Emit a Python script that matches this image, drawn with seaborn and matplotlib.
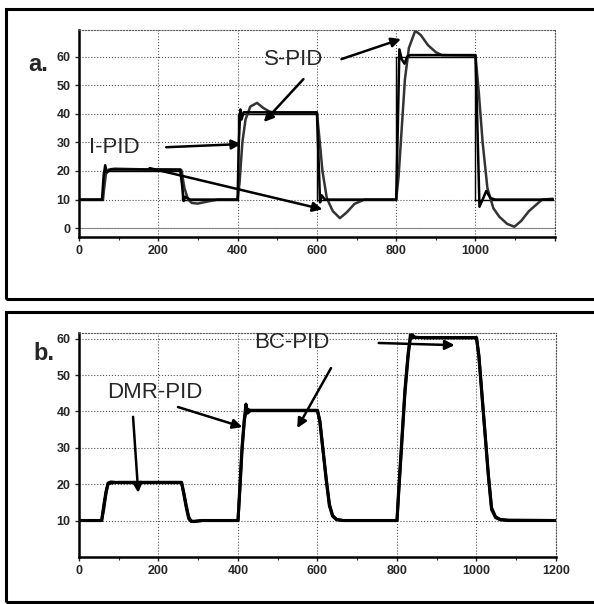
import numpy as np
import pandas as pd
import matplotlib
matplotlib.use("Agg")
import matplotlib.pyplot as plt
import seaborn as sns
from matplotlib.patches import Rectangle
from matplotlib.ticker import MultipleLocator

# panel a: setpoint and two controller responses
a_sp_t = [0, 60, 60, 260, 260, 400, 400, 600, 600, 800, 800, 1000, 1000, 1195]
a_sp_y = [10, 10, 20, 20, 10, 10, 40, 40, 10, 10, 60, 60, 10, 10]

a_ipid_t = [0, 58, 62, 66, 70, 80, 100, 255, 260, 264, 268, 280, 400, 403, 407, 410, 415,
            600, 604, 608, 612, 620, 800, 804, 808, 814, 821, 828, 835,
            1000, 1004, 1010, 1018, 1027, 1038, 1050, 1195]
a_ipid_y = [10, 10, 18, 22, 19.5, 20.5, 20.5, 20.5, 15, 9.5, 11, 10, 10, 30, 41.5, 38, 40.5,
            40.5, 25, 9, 11.5, 10, 10, 35, 62.5, 59, 57.5, 60, 60.5,
            60.5, 40, 7.5, 10, 13, 10.5, 10, 10]

a_spid_t = [0, 60, 68, 75, 90, 150, 258, 266, 275, 285, 300, 320, 350, 400, 405, 412, 420, 432,
            449, 465, 480, 495, 600, 606, 614, 625, 640, 658, 675, 695, 720, 800, 806, 814,
            822, 832, 848, 862, 880, 900, 915, 1000, 1008, 1018, 1030, 1045, 1060, 1080,
            1098, 1115, 1135, 1168, 1195]
a_spid_y = [10, 10, 19, 20.5, 20.8, 20.6, 20.4, 14, 10, 8.8, 8.6, 9.2, 10, 10, 16, 30, 38, 42.5,
            43.8, 42, 40.8, 40.3, 40.3, 32, 20, 10.5, 6, 3.5, 5.5, 8.5, 10, 10, 18, 35,
            52, 63, 69, 67.5, 64, 61.5, 60.5, 60.3, 48, 30, 14, 7, 4, 1.5,
            0.5, 2.5, 6, 10, 10.3]

# panel b: two responses that nearly overlap
b_t = [0, 57, 62, 68, 73, 80, 100, 258, 264, 270, 276, 282, 290, 310, 400, 404, 410, 416, 420,
       424, 432, 450, 600, 606, 614, 622, 630, 638, 648, 665, 700, 800, 804, 812, 820, 828,
       834, 845, 870, 1000, 1006, 1014, 1022, 1030, 1038, 1048, 1060, 1080, 1200]
b_dmr_y = [10, 10, 14, 18, 20, 20.3, 20.5, 20.5, 17, 13.5, 10.5, 9.8, 9.8, 10, 10, 18, 30, 38, 42,
           39.5, 40.3, 40.3, 40.3, 37, 29, 21, 14, 11.2, 10.2, 10, 10, 10, 18, 32, 46, 56,
           60.3, 60.3, 60.3, 60.3, 55, 44, 33, 22, 13, 10.8, 10.2, 10, 10]
b_bc_y = [10, 10, 13, 17.5, 20.3, 20.6, 20.4, 20.4, 17.5, 14, 11, 9.8, 9.7, 10, 10, 17, 29, 37.5, 40,
          40.6, 40.2, 40.2, 40.2, 37.5, 29.5, 21.5, 14.5, 11.4, 10.3, 10, 10, 10, 17, 31, 45, 55,
          61.5, 60.4, 60.2, 60.2, 55.5, 44.5, 33.5, 22.5, 13.5, 11, 10.3, 10.1, 10]

sns.set_style("white")
plt.rcParams["font.family"] = ["Liberation Sans Narrow", "Liberation Sans", "DejaVu Sans"]

fig = plt.figure(figsize=(5.94, 6.04), dpi=100)

# outer frames around both panels
for y0, h in [(0.505, 0.480), (0.003, 0.480)]:
    fig.patches.append(Rectangle((0.010, y0), 1.05, h, transform=fig.transFigure,
                                 fill=False, lw=2.2, ec="black", zorder=0))

ax_a = fig.add_axes([0.133, 0.608, 0.801, 0.342])
ax_b = fig.add_axes([0.133, 0.078, 0.803, 0.371])

sns.lineplot(x=a_sp_t, y=a_sp_y, ax=ax_a, sort=False, estimator=None, color="black", lw=1.0)
sns.lineplot(x=a_spid_t, y=a_spid_y, ax=ax_a, sort=False, estimator=None, color="#333333", lw=1.8)
sns.lineplot(x=a_ipid_t, y=a_ipid_y, ax=ax_a, sort=False, estimator=None, color="black", lw=1.8)
ax_a.axhline(0, color="#888888", lw=0.8, zorder=1)

sns.lineplot(x=b_t, y=b_bc_y, ax=ax_b, sort=False, estimator=None, color="black", lw=2.2)
sns.lineplot(x=b_t, y=b_dmr_y, ax=ax_b, sort=False, estimator=None, color="black", lw=2.2)

ax_a.set_xlim(0, 1193)
ax_a.set_ylim(-3, 69.2)
ax_a.set_yticks([0, 10, 20, 30, 40, 50, 60])
ax_b.set_xlim(0, 1200)
ax_b.set_ylim(0, 61.6)
ax_b.set_yticks([10, 20, 30, 40, 50, 60])

for ax in (ax_a, ax_b):
    ax.set_xticks([0, 200, 400, 600, 800, 1000, 1200])
    ax.xaxis.set_minor_locator(MultipleLocator(100))
    ax.grid(True, which="major", ls=":", lw=0.8, color="#555555")
    for s in ("left", "bottom"):
        ax.spines[s].set_linewidth(1.8)
        ax.spines[s].set_color("black")
    for s in ("top", "right"):
        ax.spines[s].set_linestyle(":")
        ax.spines[s].set_linewidth(0.8)
        ax.spines[s].set_color("#555555")
    ax.tick_params(which="major", direction="out", length=3, width=1, pad=3,
                   labelsize=9, bottom=True, left=True)
    ax.tick_params(which="minor", direction="out", length=2, width=0.8, bottom=True)
    for lab in ax.get_xticklabels() + ax.get_yticklabels():
        lab.set_fontweight("bold")
    ax.set_xlabel("")
    ax.set_ylabel("")

ax_a.set_xticklabels(["0", "200", "400", "600", "800", "1000", ""], fontweight="bold")

fig.text(0.065, 0.893, "a.", fontsize=17, fontweight="bold", ha="center", va="center")
fig.text(0.074, 0.415, "b.", fontsize=17, fontweight="bold", ha="center", va="center")

arrow = dict(arrowstyle="-|>", color="black", lw=1.8, mutation_scale=14, shrinkA=0, shrinkB=0)

ax_a.text(541, 59.1, "S-PID", fontsize=16, ha="center", va="center", family=["Liberation Sans", "DejaVu Sans"])
ax_a.text(88, 28.3, "I-PID", fontsize=16, ha="center", va="center", family=["Liberation Sans", "DejaVu Sans"])
ax_a.annotate("", xy=(812, 66.1), xytext=(662, 59.1), arrowprops=arrow)
ax_a.annotate("", xy=(466, 37.1), xytext=(566, 52.1), arrowprops=arrow)
ax_a.annotate("", xy=(409, 29.4), xytext=(220, 28.3), arrowprops=arrow)
ax_a.annotate("", xy=(614, 6.6), xytext=(178, 21.0), arrowprops=arrow)

ax_b.text(536, 58.8, "BC-PID", fontsize=16, ha="center", va="center", family=["Liberation Sans", "DejaVu Sans"])
ax_b.text(191, 45.3, "DMR-PID", fontsize=16, ha="center", va="center", family=["Liberation Sans", "DejaVu Sans"])
ax_b.annotate("", xy=(549, 35.4), xytext=(634, 51.9), arrowprops=arrow)
ax_b.annotate("", xy=(149, 17.6), xytext=(136, 38.5), arrowprops=arrow)
ax_b.annotate("", xy=(411, 35.7), xytext=(249, 41.2), arrowprops=arrow)
ax_b.annotate("", xy=(945, 58.2), xytext=(754, 58.8), arrowprops=arrow)

fig.savefig("out.png", dpi=100)
